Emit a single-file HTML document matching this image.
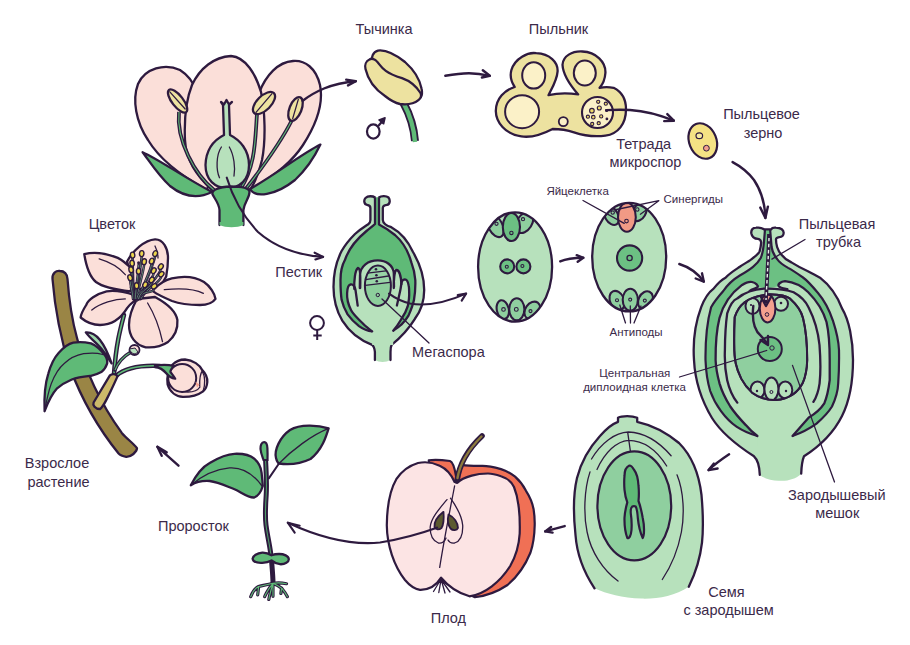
<!DOCTYPE html>
<html><head><meta charset="utf-8"><style>
html,body{margin:0;padding:0;background:#fff;width:910px;height:645px;overflow:hidden}
svg{display:block}
text{font-family:"Liberation Sans",sans-serif;fill:#3b2a4a}
.L{font-size:14.5px}
.S{font-size:11.5px}
.o{stroke:#2e1a3f;stroke-width:2.3;stroke-linejoin:round;stroke-linecap:round}
.t{stroke:#2e1a3f;stroke-width:1.3;fill:none;stroke-linecap:round}
.ar{stroke:#2e1a3f;stroke-width:2.4;fill:none;stroke-linecap:round;stroke-linejoin:round}
</style></head><body>
<svg width="910" height="645" viewBox="0 0 910 645">
<!-- TEXT -->
<g id="labels">
<text class="L" x="384" y="34" text-anchor="middle">Тычинка</text>
<text class="L" x="558.5" y="34.4" text-anchor="middle">Пыльник</text>
<text class="L" x="761.5" y="119" text-anchor="middle">Пыльцевое</text>
<text class="L" x="763" y="137.5" text-anchor="middle">зерно</text>
<text class="L" x="643.7" y="148.6" text-anchor="middle">Тетрада</text>
<text class="L" x="645.5" y="167" text-anchor="middle">микроспор</text>
<text class="S" x="577.6" y="195" text-anchor="middle">Яйцеклетка</text>
<text class="S" x="693.3" y="202.6" text-anchor="middle">Синергиды</text>
<text class="L" x="837" y="228.8" text-anchor="middle">Пыльцевая</text>
<text class="L" x="838.6" y="246.5" text-anchor="middle">трубка</text>
<text class="L" x="112" y="228.6" text-anchor="middle">Цветок</text>
<text class="L" x="298.7" y="276.6" text-anchor="middle">Пестик</text>
<text class="L" x="448.4" y="357" text-anchor="middle">Мегаспора</text>
<text class="S" x="636" y="336.4" text-anchor="middle">Антиподы</text>
<text class="S" x="634.8" y="377" text-anchor="middle">Центральная</text>
<text class="S" x="634.5" y="391.4" text-anchor="middle">диплоидная клетка</text>
<text class="L" x="836.8" y="500" text-anchor="middle">Зародышевый</text>
<text class="L" x="837.2" y="517.9" text-anchor="middle">мешок</text>
<text class="L" x="57" y="468.2" text-anchor="middle">Взрослое</text>
<text class="L" x="58.5" y="486.7" text-anchor="middle">растение</text>
<text class="L" x="193.4" y="530.8" text-anchor="middle">Проросток</text>
<text class="L" x="448.4" y="622.5" text-anchor="middle">Плод</text>
<text class="L" x="726.5" y="596.8" text-anchor="middle">Семя</text>
<text class="L" x="728.6" y="614.9" text-anchor="middle">с зародышем</text>
</g>
<!-- BIG FLOWER -->
<g id="flower">
<path class="o" fill="#fbdfd9" d="M207,190 C185,178 160,160 148,140 C136,122 132,100 138,84 C145,68 165,63 180,70 C188,75 193,81 197,92 L215,160 Z"/>
<path class="o" fill="#fbdfd9" d="M250,190 C268,180 290,165 303,145 C316,125 324,105 320,85 C316,68 305,60 293,61 C278,62 266,75 259,93 L240,160 Z"/>
<path class="o" fill="#fbdfd9" d="M212,190 C196,175 186,160 185,140 C184,118 186,100 192,85 C200,68 214,57 231,56 C246,57 256,75 261,92 C265,110 266,140 262,160 C258,175 255,183 250,190 Z"/>
<!-- filaments -->
<path d="M179,112 C176,140 195,175 214,190" stroke="#2e1a3f" stroke-width="3.8" fill="none"/>
<path d="M179,112 C176,140 195,175 214,190" stroke="#5fba77" stroke-width="1.1" fill="none"/>
<path d="M257,114 C255,140 256,165 240,190" stroke="#2e1a3f" stroke-width="3.8" fill="none"/>
<path d="M257,114 C255,140 256,165 240,190" stroke="#5fba77" stroke-width="1.1" fill="none"/>
<path d="M292,120 C282,140 262,168 245,190" stroke="#2e1a3f" stroke-width="3.8" fill="none"/>
<path d="M292,120 C282,140 262,168 245,190" stroke="#5fba77" stroke-width="1.1" fill="none"/>
<!-- anthers -->
<g transform="translate(177.6,101) rotate(52)"><ellipse class="o" fill="#ede2a0" rx="14" ry="5.5"/><path class="t" stroke-width="1.5" d="M-12,0.5 L11,-1"/></g>
<g transform="translate(264,103) rotate(-45)"><ellipse class="o" fill="#ede2a0" rx="14" ry="7"/><path class="t" stroke-width="1.5" d="M-12,1 L12,-1"/></g>
<g transform="translate(295.5,109) rotate(-68)"><ellipse class="o" fill="#ede2a0" rx="12.5" ry="6"/><path class="t" stroke-width="1.5" d="M-10,1 L10,-1"/></g>
<!-- ovary & style -->
<path class="o" fill="#b7e1bc" d="M221,102 L223,105 L224,135 C214,140 206,150 205.5,165 C205.5,180 215,188 227,188 C240,188 249,180 249,165 C249,150 240,140 230,135 L229,105 L232,102 L229,104.5 L226.5,100 L224,104.5 Z"/>
<path class="t" d="M221.4,147 C216,155 216,170 219.5,177.7 M229.3,147 C234,155 235.5,168 234,176"/>
<!-- sepals -->
<path class="o" fill="#5fba77" d="M142.6,152.2 C160,160 180,175 212,192 C200,198 185,198 170,186 C158,175 150,162 142.6,152.2 Z"/>
<path class="o" fill="#5fba77" d="M320.4,144.6 C300,155 275,175 250,189 C255,198 275,196 295,180 C308,168 315,156 320.4,144.6 Z"/>
<!-- receptacle -->
<path class="o" fill="#5fba77" d="M219.5,225 L219.5,210 C219,203 214,198 212.4,194 C212,190 218,187 231,186.5 C243,186.5 249.5,188 249.5,192 C249.5,198 244.5,202 243.4,210 L243.4,225"/>
<path d="M219.5,225 C226,228 237,228 243.4,225 L243.4,222 L219.5,222 Z" fill="#5fba77"/>
</g>
<!-- STAMEN -->
<g id="stamen">
<path d="M403.5,103 C410,115 414,128 415,141" stroke="#2e1a3f" stroke-width="8" fill="none"/>
<path d="M403.5,103 C410,115 414,128 415,142" stroke="#5fba77" stroke-width="4.4" fill="none"/>
<path class="o" stroke-width="2.3" fill="#ede2a0" d="M372,62 C371,57 373,52 378,50.6 C386,49.5 396,55 405,62 C414,70 420,80 421.6,88.8 C422.5,93 421.5,96 420.8,97 L400,90 Z"/>
<path class="o" stroke-width="2.3" fill="#ede2a0" d="M369.5,59.5 C366,61 364.5,65 365.5,69 C368,80 376,90 385,96 C390,100 395,103 400,104 C408,105 415,103 418.4,100.2 C421,98 421.5,95 420.5,93 C416,86 410,81 402,78.2 C395,76 390,74 385.8,70.9 C380,67 378,61 374.4,59.5 C372.5,58.5 371,58.5 369.5,59.5 Z"/>
<!-- male symbol -->
<ellipse cx="373.3" cy="131.5" rx="6.3" ry="7.1" fill="none" stroke="#2e1a3f" stroke-width="2.2"/>
<path d="M378.2,126 L384,119.5" stroke="#2e1a3f" stroke-width="2.2" fill="none"/>
<path d="M379,120 L385,117.8 L383.6,123.8 Z" fill="#2e1a3f" stroke="#2e1a3f" stroke-width="1.6" stroke-linejoin="round"/>
</g>
<!-- ANTHER CROSS-SECTION -->
<g id="anther">
<path class="o" fill="#ede2a0" d="M552.6,129 C545,133 532,138 521.3,136.4 C505,134 496,122 495.8,110.9 C496,98 505,90 514.7,87 C510,80 510,75 511.4,70 C515,58 528,52 536.2,53.2 C550,54 558,62 557.6,71.3 C557,80 552,88 548.5,95.2 C558,93 568,93 578.2,94.4 C570,85 563,75 562.5,64.7 C563,56 572,51 582.3,51.5 C596,52 606,62 605.4,73 C605,79 603,84 599.6,87.8 C604,87 609,87 613.6,87.8 C622,92 626,100 626,109.2 C626,124 618,134 605.4,135.6 C595,137 582,135 574,132.3 C567,130 560,129 552.6,129 Z"/>
<ellipse cx="533.7" cy="75.4" rx="11.5" ry="13.2" fill="#fbf1c8" stroke="#2e1a3f" stroke-width="2"/>
<ellipse cx="584.8" cy="73" rx="11" ry="12.5" fill="#fbf1c8" stroke="#2e1a3f" stroke-width="2"/>
<ellipse cx="522.1" cy="111.7" rx="17" ry="16.5" fill="#fbf1c8" stroke="#2e1a3f" stroke-width="2"/>
<circle cx="563.3" cy="121.6" r="4.5" fill="#fbf1c8" stroke="#2e1a3f" stroke-width="1.8"/>
<ellipse cx="597.5" cy="112.5" rx="15.5" ry="15.5" fill="#fbf1c8" stroke="#2e1a3f" stroke-width="2.1"/>
<g fill="#eedb6a" stroke="#2e1a3f" stroke-width="1.1">
<circle cx="598.2" cy="101.8" r="1.6"/><circle cx="605.8" cy="103.7" r="1.6"/><circle cx="599.3" cy="108" r="2"/>
<circle cx="591.9" cy="110.7" r="2.3"/><circle cx="587.9" cy="116.7" r="1.6"/><circle cx="593.3" cy="117.2" r="1.8"/>
<circle cx="601.2" cy="116.4" r="1.6"/><circle cx="592.2" cy="124" r="1.6"/><circle cx="598.7" cy="123.2" r="1.6"/>
</g>
<circle cx="606.9" cy="118.9" r="1.4" fill="#2e1a3f"/>
<circle cx="606.6" cy="110.5" r="1.6" fill="#2e1a3f"/>
</g>
<!-- POLLEN -->
<g id="pollen">
<ellipse cx="702.8" cy="141" rx="13.6" ry="18.3" transform="rotate(-22 702.8 141)" fill="#f5e284" stroke="#2e1a3f" stroke-width="2.2"/>
<ellipse cx="699.3" cy="135.7" rx="3.3" ry="2.9" fill="#f7eba0" stroke="#2e1a3f" stroke-width="1.2"/>
<circle cx="706.4" cy="148.2" r="2.9" fill="#f2a08e" stroke="#2e1a3f" stroke-width="1"/>
</g>
<!-- PISTIL -->
<g id="pistil">
<path fill="#b7e1bc" d="M374.9,362 L374.9,352 C374.5,348 373.5,346 372.1,344.9 C362,341 350,333 342.3,320.7 C336,310 333.5,298 333.5,287 C333.5,272 336,262 341.6,251 C345,245 349,240 355,234 C360.5,229 365.5,226 368.5,224 C370,223 370.4,222 370.4,220 L370.4,208 C370.4,205.5 369,205 367,204.8 C364,204.5 363.5,200 365.5,198 C368,195.5 373,196 375,197.5 L378.9,197.5 C381,196 386,195.5 388.5,197.5 C390.5,200 390,204.5 387,204.8 C385,205 382.8,205.5 382.8,208 L382.8,220 C383,223 386,225.5 391.3,227.2 C400,232 408,241 413,252 C420,264 424.2,276 424.2,290 C424.2,302 420,312 414.9,318.8 C408,330 400,338 391.6,344.9 C391,346 390.5,348 390.5,352 L390.5,360 C386,362.5 379,362.5 374.9,360 Z"/>
<path class="o" fill="none" d="M374.9,360 L374.9,352 C374.5,348 373.5,346 372.1,344.9 C362,341 350,333 342.3,320.7 C336,310 333.5,298 333.5,287 C333.5,272 336,262 341.6,251 C345,245 349,240 355,234 C360.5,229 365.5,226 368.5,224 C370,223 370.4,222 370.4,220 L370.4,208 C370.4,205.5 369,205 367,204.8 C364,204.5 363.5,200 365.5,198 C368,195.5 373,196 375,197.5 M378.9,197.5 C381,196 386,195.5 388.5,197.5 C390.5,200 390,204.5 387,204.8 C385,205 382.8,205.5 382.8,208 L382.8,220 C383,223 386,225.5 391.3,227.2 C400,232 408,241 413,252 C420,264 424.2,276 424.2,290 C424.2,302 420,312 414.9,318.8 C408,330 400,338 391.6,344.9 C391,346 390.5,348 390.5,352 L390.5,360"/>
<path d="M375,197.5 L375,224 C372.5,226.5 369.5,228.5 366.5,231 C358,238 349,248 345,259.8 C341,267 340.5,274 340.5,280 C340.5,288 340.8,294 341.6,299.8 C343,306 345,310 347.6,314.3 C351,319 355,323 359,326.1 C363,329 368,331 372.2,331.4 L393.2,330.7 C396,329 398.5,327.5 401.1,324.8 C404,322 406.5,319 408.5,315.6 C411,310 413,305 414,299.8 C415.2,293 415.5,286 415.3,280 C414.8,274 413.5,268 411.5,262.9 C408,250 403,242 395,235 C390,231 385,227.5 379,224.5 L379,197.5" fill="#5fba77" stroke="#2e1a3f" stroke-width="2.3" stroke-linejoin="round"/>
<path d="M372.2,331.4 C368,328 365,326 362.9,323.5 C357,318 353,314 351.1,310.3 C348,304 346.8,298 347.1,293.2 C347.3,289 347.8,285 350.5,284.5 C352.5,284.3 353.8,286 354.2,288 C354,281 355,270 357.9,268 C358.8,267.8 359.5,268.2 360.2,269.2 C363,263.5 369,260.4 377.8,260.4 C385,260.5 390.5,264 393.2,269 C394,268.5 395,269.5 396.5,269.8 C399,270.5 400.8,275 401.4,281 C402.5,280 403.5,279.3 404.8,279.3 C407,280 408.5,283 408.7,285.7 C409.2,290 409.4,295 409.2,299.6 C408.8,304 408,306 407.7,306.4 C406,312 403.5,316 401.1,319.5 C398.5,324 396,327.5 393.2,330.7 L393.2,345 L372.2,345 Z" fill="#b7e1bc"/>
<path class="o" fill="none" d="M372.2,331.4 C368,328 365,326 362.9,323.5 C357,318 353,314 351.1,310.3 C348,304 346.8,298 347.1,293.2 C347.3,289 347.8,285 350.5,284.5 C353.5,284 355,287 355.5,290 L357.7,305.7"/>
<path class="o" fill="none" d="M393.2,330.7 C396,327.5 398.5,324 401.1,319.5 C403.5,316 406,312 407.7,306.4 C408.5,302 409.2,299.6 409.2,295 C409.2,290 409,287 408.7,285.7 C408,281.5 406.5,279.3 404.8,279.3 C402.5,279.5 401.5,282 401.3,284 C400.5,290 399.8,292.6 399.8,292.6 L396.9,305.5"/>
<path class="o" stroke-width="2.1" fill="none" d="M359.8,288 L360,275 C360.5,266 368,260.4 377.8,260.4 C386,260.5 393,265 393.8,273 L394,287 M354.3,289 C354,281 355,270 357.9,268 C360,268.2 360.6,273 360.2,288 M393.8,288 C393.6,280 394.5,270.5 396.5,269.8 C399,270 401,276 401.4,284"/>

<ellipse cx="377.9" cy="285.7" rx="13" ry="20.2" fill="#8dce9c"/>
<defs><clipPath id="cm"><ellipse cx="377.9" cy="285.7" rx="13" ry="20.2"/></clipPath></defs><path clip-path="url(#cm)" d="M364,285.5 L391,282.2 L391,263 L364,263 Z" fill="#99d4a7"/>
<path class="t" stroke-width="1.6" d="M367.5,273.2 L386,270.8 M365.5,279.7 L388.5,276 M365.2,285.4 L390,282.3"/>
<ellipse cx="377.9" cy="285.7" rx="13" ry="20.2" fill="none" stroke="#2e1a3f" stroke-width="2"/>
<circle cx="376" cy="269.3" r="1.3" fill="#2e1a3f"/><circle cx="376.4" cy="275.2" r="1.3" fill="#2e1a3f"/><circle cx="376.8" cy="281.2" r="1.3" fill="#2e1a3f"/>
<circle cx="377.8" cy="295" r="1.7" fill="none" stroke="#2e1a3f" stroke-width="1"/>
<path class="t" d="M382,299 L429,343"/>
<circle cx="317" cy="323" r="6.9" fill="none" stroke="#2e1a3f" stroke-width="2"/>
<path d="M317.2,329.9 L317.2,340 M313.3,335.4 L321.7,335.4" stroke="#2e1a3f" stroke-width="2" fill="none"/>
</g>
<!-- EMBRYO SAC 1 -->
<defs><clipPath id="c1"><ellipse cx="515.1" cy="267" rx="37" ry="54.7"/></clipPath><clipPath id="c2"><ellipse cx="629.2" cy="257.1" rx="37" ry="54.3"/></clipPath></defs>
<g id="sac1">
<ellipse cx="515.1" cy="267" rx="37" ry="54.7" fill="#b7e1bc"/>
<g stroke="#2e1a3f" stroke-width="2.1" clip-path="url(#c1)">
<ellipse cx="495.5" cy="226" rx="7" ry="12" transform="rotate(-28 495.5 226)" fill="#8fcf9f"/>
<ellipse cx="524.5" cy="222.5" rx="7.5" ry="11.5" transform="rotate(32 524.5 222.5)" fill="#8fcf9f"/>
<ellipse cx="511.4" cy="227" rx="8.6" ry="14" fill="#6cc083"/>
<ellipse cx="502.8" cy="309.6" rx="6" ry="9.5" transform="rotate(-12 502.8 309.6)" fill="#8fcf9f"/>
<ellipse cx="532.3" cy="310.4" rx="7" ry="9.5" transform="rotate(35 532.3 310.4)" fill="#8fcf9f"/>
<ellipse cx="516.8" cy="309.3" rx="7.6" ry="11" fill="#8fcf9f"/>
<circle cx="507.2" cy="266.4" r="7" fill="#6cc083"/>
<circle cx="523.4" cy="266.4" r="7" fill="#6cc083"/>
</g>
<ellipse cx="515.1" cy="267" rx="37" ry="54.7" fill="none" stroke="#2e1a3f" stroke-width="2.3"/>
<g fill="none" stroke="#2e1a3f" stroke-width="1.1">
<circle cx="496.5" cy="223.8" r="1.6"/><circle cx="523" cy="219.2" r="1.6"/><circle cx="511.4" cy="232.9" r="1.7"/>
<circle cx="503.5" cy="309.4" r="1.8"/><circle cx="516.3" cy="309.4" r="1.9"/><circle cx="530.5" cy="311.1" r="1.5"/>
<circle cx="506.8" cy="266.7" r="1.5"/><circle cx="522.4" cy="266" r="1.5"/></g>
</g>
<!-- EMBRYO SAC 2 -->
<g id="sac2">
<ellipse cx="629.2" cy="257.1" rx="37" ry="54.3" fill="#b7e1bc"/>
<g stroke="#2e1a3f" stroke-width="2.1" clip-path="url(#c2)">
<ellipse cx="611.5" cy="215.7" rx="6.5" ry="10" transform="rotate(-30 611.5 215.7)" fill="#8fcf9f"/>
<ellipse cx="639.2" cy="212.2" rx="6.5" ry="9.5" transform="rotate(30 639.2 212.2)" fill="#8fcf9f"/>
<ellipse cx="626.9" cy="217.2" rx="8.9" ry="14.6" fill="#f19a85"/>
<ellipse cx="617.1" cy="300.4" rx="7" ry="10" transform="rotate(-25 617.1 300.4)" fill="#8fcf9f"/>
<ellipse cx="645.5" cy="300.4" rx="7" ry="9.5" transform="rotate(25 645.5 300.4)" fill="#8fcf9f"/>
<ellipse cx="630.3" cy="299.8" rx="7.6" ry="11" fill="#8fcf9f"/>
<circle cx="629.6" cy="258" r="12.6" fill="#6cc083"/>
</g>
<ellipse cx="629.2" cy="257.1" rx="37" ry="54.3" fill="none" stroke="#2e1a3f" stroke-width="2.3"/>
<g fill="none" stroke="#2e1a3f" stroke-width="1.1">
<circle cx="612.7" cy="212.6" r="1.7"/><circle cx="637.3" cy="209.5" r="1.7"/><circle cx="626.5" cy="221.1" r="1.8"/>
<circle cx="617" cy="300.2" r="1.5"/><circle cx="630.2" cy="299.6" r="1.5"/><circle cx="644.8" cy="300.6" r="1.5"/></g>
<circle cx="629.6" cy="258" r="2.6" fill="none" stroke="#2e1a3f" stroke-width="1.3"/>
<path class="t" d="M583,200.5 L624.2,223.4 M658.8,200.7 L616.5,209.5 M658.8,200.7 L640.4,214.2 M619.8,305 L625.5,323 M630.3,306 L630.5,323 M641,306 L634,323"/>
</g>
<!-- BIG OVULE -->
<g id="ovule">
<path fill="#b7e1bc" d="M771.1,229.4 C772,227.5 774,227.5 776,227.7 C780,228 783.5,229.5 783.7,232.7 C783.5,236 781,237 779.3,237.1 C777,237.5 776,238 776,239.3 C776,242 776.5,245 777.1,247 C778,250 779.5,252.5 781.5,254.7 C784,258 787,260.5 791.4,262.4 C797,266 802,268.5 807.9,271.2 C812,273.5 816,275.5 820,277.7 C832,287 838,298 842,308.4 C849,320 853,340 853,360 C853,380 850,400 842,416 C834,432 820,446 804,456.3 C802,461 801.5,466 801.2,473.7 C796,479 788,481 780.7,480.7 C774,481 766,480 759.8,474.9 C759.5,466 758,460 754,456.3 C738,446 722,434 712,418 C700,398 695,380 694,360 C693,345 694.5,325 701.2,307.2 C705,297 709,292 713.6,288.6 C718,283 721,280 725.5,277.7 C730,273 735,270 739.8,266.8 C745,263 750,261 753,258 C757,255 759,253 759.6,251.4 C760.5,248 761,245 761.2,242.6 C761,240 760,239 758,238.8 C755,238.8 752,237 751.3,233.2 C751,230 753,228 756,227.7 C759,227.3 762,227.5 764,229.4 Z"/>
<path class="o" fill="none" d="M759.8,474.9 C759.5,466 758,460 754,456.3 C738,446 722,434 712,418 C700,398 695,380 694,360 C693,345 694.5,325 701.2,307.2 C705,297 709,292 713.6,288.6 C718,283 721,280 725.5,277.7 C730,273 735,270 739.8,266.8 C745,263 750,261 753,258 C757,255 759,253 759.6,251.4 C760.5,248 761,245 761.2,242.6 C761,240 760,239 758,238.8 C755,238.8 752,237 751.3,233.2 C751,230 753,228 756,227.7 C759,227.3 762,227.5 764,229.4 M771.1,229.4 C772,227.5 774,227.5 776,227.7 C780,228 783.5,229.5 783.7,232.7 C783.5,236 781,237 779.3,237.1 C777,237.5 776,238 776,239.3 C776,242 776.5,245 777.1,247 C778,250 779.5,252.5 781.5,254.7 C784,258 787,260.5 791.4,262.4 C797,266 802,268.5 807.9,271.2 C812,273.5 816,275.5 820,277.7 C832,287 838,298 842,308.4 C849,320 853,340 853,360 C853,380 850,400 842,416 C834,432 820,446 804,456.3 C802,461 801.5,466 801.2,473.7"/>
<path d="M765,229.4 L764,241.5 C763.5,248 762.5,254 760.7,258 C758.5,262 756,264.5 753,266.8 C749,270 745,272.5 739.8,275.5 C734,279 728,284 723.3,291 C718,297 714,302 711.1,307.2 C707,322 705.3,340 705.5,360 C706,372 707.5,382 710.2,391 C713,399 716.5,405 721,411.2 C726,418 731,423 736.5,426.7 C743,431 750,434 757.4,436 L792.5,436 C801,433 809,429 816.5,423.6 C823,418 828,413 832,406.5 C836,398 838,390 838.2,383.3 C839,372 839.2,360 839,350 C838.5,338 836,330 833,320.8 C829,309 824,300 818,293 C813,287 808,281 803,277.5 C798,274 793,270.5 788.1,267.9 C783,265 779,262 777.1,259 C773,254 772,250 771.6,247 L770.1,229.4 Z" fill="#6cc083" stroke="#2e1a3f" stroke-width="2.2" stroke-linejoin="round"/>
<!-- ovule silhouette -->
<path fill="#b7e1bc" d="M757.4,436 C752,432 749,429 745.8,425.1 C739,418 734,412 730.3,406.5 C725,398 721.5,390 719.5,383.3 C717,374 715.8,366 715.6,360 C715.5,345 716.5,330 719.5,318 C723,305 730,294 742.1,284.9 C746,282.5 750,281.5 752,282 C756,283 758.5,285.5 757,287.5 L770,288 L779.5,286 C778,283.5 781,281.5 785,281.1 C793,282 802,286 808,292 C816,300 823,310 826.5,322 C829,333 829.7,345 829.7,360 C829.7,368 829.7,375 829.7,380.2 C828.5,390 827,397 824.3,403.4 C820,410 815,414 808.8,417.4 C803,424 797,431 792.5,436 L792.5,446 L757.4,446 Z"/>
<path class="o" fill="none" d="M757.4,436 C752,432 749,429 745.8,425.1 C739,418 734,412 730.3,406.5 C725,398 721.5,390 719.5,383.3 C717,374 715.8,366 715.6,360 C715.5,345 716.5,330 719.5,318 C723,305 730,294 742.1,284.9 C746,282.5 750,281.5 752,282 C756,283 758.5,285.5 757.6,287 C756.5,288.5 752,288.5 749.6,291"/>
<path class="o" fill="none" d="M792.5,436 C797,431 803,424 808.8,417.4 C815,414 820,410 824.3,403.4 C827,397 828.5,390 829.7,380.2 C829.7,375 829.7,368 829.7,360 C829.7,345 829,333 826.5,322 C823,310 816,300 808,292 C802,286 793,282 785,281.1 C781,281.5 777.5,284 778.7,286.1 C780,288 784,288.5 787.4,289.2"/>
<path class="o" fill="none" d="M737.3,402.6 C732,396 729,388 727.2,380.2 C725,370 724.5,360 724.9,350 C725,335 726,322 727.2,313.4 C730,305 733,300 737.2,298.5 C745,292 755,289 764.5,288.6 C778,288.5 788,290 793.6,292.3 C802,297 806,302 808.5,307.2 C814,318 818,330 819.5,345 C820.5,358 821,370 819.6,383.3 C818.5,391 816.5,397 813.4,401.9"/>
<!-- sac -->
<path fill="#8fcf9f" stroke="#2e1a3f" stroke-width="2" d="M776,400 C765,400.5 758,397 752,392.6 C746,387 743,382 741.2,378.6 C736,368 734.2,360 734.2,345 C734,330 734.5,322 734.7,317.1 C737,310 741,305 744.6,302.2 C750,298 757,295.5 769.4,294.2 C780,294.5 787,296 789.9,298.5 C796,304 801,310 803,318 C806,330 807.2,345 807.2,360 C807,370 805,378 802.6,383.3 C799.5,389 796.5,392 793.3,394.1 C789,397 784,399.5 776,400 Z"/>
<defs><clipPath id="c3"><path d="M776,400 C765,400.5 758,397 752,392.6 C746,387 743,382 741.2,378.6 C736,368 734.2,360 734.2,345 C734,330 734.5,322 734.7,317.1 C737,310 741,305 744.6,302.2 C750,298 757,295.5 769.4,294.2 C780,294.5 787,296 789.9,298.5 C796,304 801,310 803,318 C806,330 807.2,345 807.2,360 C807,370 805,378 802.6,383.3 C799.5,389 796.5,392 793.3,394.1 C789,397 784,399.5 776,400 Z"/></clipPath></defs>
<g stroke="#2e1a3f" stroke-width="2" clip-path="url(#c3)">
<ellipse cx="752.5" cy="306" rx="7" ry="8" fill="#b7e1bc"/>
<ellipse cx="781" cy="303.8" rx="7" ry="7" fill="#b7e1bc"/>
<ellipse cx="767.6" cy="308.4" rx="7.8" ry="14" fill="#f4a08e"/>
<ellipse cx="757.5" cy="390" rx="7" ry="8.5" fill="#b7e1bc"/>
<ellipse cx="785.3" cy="390" rx="7" ry="8.5" fill="#b7e1bc"/>
<ellipse cx="771.4" cy="389" rx="7" ry="11.5" fill="#b7e1bc"/>
<circle cx="769.8" cy="349" r="12" fill="#6cc083"/>
</g>
<path fill="none" stroke="#2e1a3f" stroke-width="2" d="M776,400 C765,400.5 758,397 752,392.6 C746,387 743,382 741.2,378.6 C736,368 734.2,360 734.2,345 C734,330 734.5,322 734.7,317.1 C737,310 741,305 744.6,302.2 C750,298 757,295.5 769.4,294.2 C780,294.5 787,296 789.9,298.5 C796,304 801,310 803,318 C806,330 807.2,345 807.2,360 C807,370 805,378 802.6,383.3 C799.5,389 796.5,392 793.3,394.1 C789,397 784,399.5 776,400 Z"/>
<g fill="none" stroke="#2e1a3f" stroke-width="1"><circle cx="767" cy="314.5" r="1.8"/><circle cx="772" cy="348" r="2.2"/><circle cx="771.4" cy="392" r="1.5"/></g>
<g fill="#2e1a3f"><circle cx="781" cy="303" r="1.3"/><circle cx="751" cy="305" r="1.1"/><circle cx="757" cy="391" r="1.2"/><circle cx="786" cy="391" r="1.2"/></g>
<!-- pollen tube -->
<path d="M769,234 C768.5,255 767,280 765.8,303" stroke="#2e1a3f" stroke-width="3.8" fill="none"/>
<path d="M769,238 C768.5,255 767,280 766,300" stroke="#e8f4ea" stroke-width="1.4" stroke-dasharray="3.5 2.5" fill="none"/>
<path class="ar" stroke-width="2" d="M761,297 L766,306 L771,297"/>
<path class="ar" stroke-width="1.6" d="M753.3,306 C752,318 754,330 760.7,335.7 C763,338 765,341 767.6,344"/>
<path class="ar" stroke-width="1.8" d="M760.5,340 L768,345 L768,336"/>
<!-- leader lines -->
<path class="t" d="M805,239.5 L771.9,259.1 M679.5,377 L766.7,350.5 M792.5,365.4 L834.5,482"/>
</g>
<!-- SEED -->
<g id="seed">
<path fill="#b7e1bc" d="M594.5,588.3 C585,574 577,556 575.5,535 C573,512 573,495 577,478 C581,462 589,448 600,436 C606,429 612,424 618,421.8 L618,417.8 C622,415.6 632,415.6 637.2,417.8 L637.2,421.8 C654,425.5 667,433 679,443 C692,456 699,474 701.5,495 C703,512 703.5,528 702,542.6 C700,560 695,574 688.8,586.8 C675,596 658,599 641.6,598.6 C622,598 607,594 594.5,588.3 Z"/>
<path class="o" fill="none" d="M594.5,588.3 C585,574 577,556 575.5,535 C573,512 573,495 577,478 C581,462 589,448 600,436 C606,429 612,424 618,421.8 L618,417.8 C622,415.6 632,415.6 637.2,417.8 L637.2,421.8 C654,425.5 667,433 679,443 C692,456 699,474 701.5,495 C703,512 703.5,528 702,542.6 C700,560 695,574 688.8,586.8"/>
<path class="t" stroke-width="2.2" d="M591.5,459 C601,443 615,432.5 628.4,432 C645,432.5 660,443 671.1,455.7 M597,469.5 C605,452 617,441 628.4,440.3 C645,440.5 658,452 666.7,466 M627.7,432.3 L630.5,451.9 M590,471.9 C584,490 583.5,515 587.1,532 C591,552 603,570 618,581 M677,474.8 C684,492 684.5,515 681.4,532 C678,550 672,565 662.3,579.5"/>
<ellipse cx="634.3" cy="505.8" rx="36.9" ry="54.5" fill="#8fcf9f" stroke="#2e1a3f" stroke-width="2.2"/>
<path fill="#5fba77" stroke="#2e1a3f" stroke-width="2.2" stroke-linejoin="round" d="M629.4,465.5 C626,467 624.5,471 624.5,475.9 C624,481 624.2,486 624.5,489.9 C625,495 626,499 627.3,502.4 C626,507 624.8,512 624.5,517.8 C624.3,526 625.5,533 627.3,538 C629,539 631,536 631.5,530 C632,522 631.5,518 630.8,513.6 C630.5,510 631,507.5 632.2,506.6 C633.5,506 634.5,506 635.7,506.6 C637,509 637.5,513 637.8,517.8 C638.5,525 640,532 642.7,538 C644.5,535 644.5,526 642.7,517.8 C641.5,511 640,505 638.5,501 C639,496 639,491 638.5,485.7 C638,478 636.5,473 634.3,470.3 C632.5,467 631,465.5 629.4,465.5 Z"/>
</g>
<!-- APPLE -->
<g id="apple">
<path fill="#f07055" stroke="#2e1a3f" stroke-width="2.2" stroke-linejoin="round" d="M428.8,460.3 C436,459 443,460 450,461 C453,462 455,470 456,476 C458,470 460,466 461.9,464.8 C468,466 475,466 482.6,465.9 C489,466 495,467.5 501,469.1 C507,471 511,473.5 515.1,476.7 C520,481 523.5,486 526,490.8 C530,497 532.5,503 533.6,509.3 C534.5,515 534.8,520 534.7,525 C534.5,535 533,545 530.5,552.5 C525,566 517,577 507.5,585 C497,592 486,596 474.9,597.2 L440,580 Z"/>
<path fill="#fce4e4" stroke="#2e1a3f" stroke-width="2.2" stroke-linejoin="round" d="M454.6,482 C452,476 447,469 439.7,465.7 C432,462 425,461.5 418,463 C408,466 401,472 396.3,479.2 C390,490 387,507 386.8,525.3 C387,545 394,566 405,580 C410,586 415,589 420,589.8 C428,590 436,586 441.1,577.7 C448,586 458,593 469.5,596.3 C485,594 500,582 510.2,566 C516,556 519,545 519.7,533.5 C520,522 519.5,512 518.4,505 C517.5,497 516,492 514,487 C511,481 507,478 501,476.2 C496,474.5 492,473.5 488,473.5 C482,473.5 477,474 471.7,475.6 C465,477.5 460,480 457.1,482.7 C455.5,481.5 455,482 454.6,482 Z"/>
<path d="M457,481 C459,466 467,450 482,436" stroke="#2e1a3f" stroke-width="5.6" fill="none" stroke-linecap="round"/>
<path d="M457.5,478 C459.5,466 467,451 481.5,436.5" stroke="#8c7a3c" stroke-width="2.4" fill="none" stroke-linecap="round"/>
<path class="t" stroke-width="1.4" d="M454.6,486 C450,510 444,540 439.7,567.4"/>
<path class="t" stroke-width="1.3" d="M447,499.6 C440,508 431,518 430.2,527 C430,536 433,541 438.3,543 C442,544 445,541 446,538 M450.5,498.2 C456,506 462,516 462.7,525.3 C463,534 461,541 454.6,543 C451,543.5 449,542 448,540"/>
<path fill="#5c5a30" stroke="#2e1a3f" stroke-width="1.8" stroke-linejoin="round" d="M443.5,511.8 C438,516 434,522 434.5,527 C435.5,530 439,530 441.5,528 C444,524 444,518 443.5,511.8 Z"/>
<path fill="#5c5a30" stroke="#2e1a3f" stroke-width="1.8" stroke-linejoin="round" d="M448.5,514.5 C447.5,519 448,525 450.5,528.5 C453,531 457,530.5 458,528 C458,523 454,517 448.5,514.5 Z"/>
<path d="M437,583 L441.1,578 L445,583 Z" fill="#2e1a3f"/><path class="t" stroke-width="1.6" d="M440.5,580 L433.5,591.5 M441,580 L438.8,592.5 M441.3,580 L445,593 M441.5,580 L450,592"/>
</g>
<!-- SEEDLING -->
<g id="seedling">
<path class="o" fill="#5fba77" d="M190.8,485.2 C196,475 202,467 209.7,462.9 C218,458 226,454 234.5,453.8 C243,453.5 250,455 254.2,458.7 C258,462 261,467 261.6,472.8 C262,477 262.5,481 262.8,486 C261,492 258,496 254.2,497.5 C248,498 241,492 234.5,489.3 C226,486 218,482 209.7,481 C202,480.5 196,482 190.8,485.2 Z"/>
<path class="t" stroke-width="2" d="M190.8,485.2 C203,475 217,469 229.5,467.9 C243,467 254,475 262,486"/>
<path class="o" fill="#5fba77" d="M328.6,428.4 C318,425 300,424 290,430 C280,437 274,450 276,458 C277,462 278,463 279,463.5 C290,465 300,464 310.5,459 C322,450 326,437 328.6,428.4 Z"/>
<path class="t" stroke-width="2" d="M328.6,428.4 C312,435 292,450 279,463.5"/>
<path d="M268.8,478.4 L279,463.5" stroke="#2e1a3f" stroke-width="2" fill="none" stroke-linecap="round"/>
<path d="M265.5,458 C266,470 267,482 266.2,495 C265.3,508 264.8,515 266,525 C267.5,537 270.5,548 271.5,560 C272.3,570 273,577 273,583" stroke="#2e1a3f" stroke-width="5" fill="none" stroke-linecap="round"/>
<path d="M265.5,460 C266,470 267,482 266.2,495 C265.3,508 264.8,515 266,525 C267.5,537 270.5,548 271.5,560" stroke="#4f9d69" stroke-width="1.1" fill="none"/>
<path fill="#5fba77" stroke="#2e1a3f" stroke-width="2.2" d="M264.2,442.1 C261.5,442 260.3,445.5 260.5,449 C260.8,453 262.5,457 263.5,460 L267.5,460 C267.6,456 267.6,452 267.4,448 C267.2,444.5 266,442.2 264.2,442.1 Z"/>
<path class="o" fill="#5fba77" d="M271.5,555.3 C268,553 265,552.5 262.3,552.6 C257,553 253,556 252.6,558.6 C253,562 258,563 262.3,562.8 C266,562.8 269,562 271.5,560.5 C274,562.5 277,564 280,564.2 C285,564.5 289,562 288.8,559 C288.5,556 284,554 279.1,554 C276,554 273.5,554.5 271.5,555.3 Z"/>
<path d="M273,583.3 C266,585 260,586 258.6,586.5 C254,589 252,593 250.7,596.7 M258.6,587 L257.7,594.9 M273,583.3 C270,587 268,590 267,592 C266,594 265,595.5 264.7,596.7 M273,583.3 C271,590 269.5,595 268.8,599.5 M273,583.3 L273,596.3 M273,583.3 C278,582.5 283,583 286.5,583.7 M273,583.3 C277,585 280,587 281.9,588.4 C284,591 286,594 287.4,596.7 M281.5,588.5 L280.9,593.5" fill="none" stroke="#2e1a3f" stroke-width="3.2" stroke-linecap="round"/>
<path d="M273,583.3 C266,585 260,586 258.6,586.5 C254,589 252,593 250.7,596.7 M258.6,587 L257.7,594.9 M273,583.3 C270,587 268,590 267,592 C266,594 265,595.5 264.7,596.7 M273,583.3 C271,590 269.5,595 268.8,599.5 M273,583.3 L273,596.3 M273,583.3 C278,582.5 283,583 286.5,583.7 M273,583.3 C277,585 280,587 281.9,588.4 C284,591 286,594 287.4,596.7 M281.5,588.5 L280.9,593.5" fill="none" stroke="#5fba77" stroke-width="1.1" stroke-linecap="round"/>
</g>
<!-- BRANCH -->
<g id="branch">
<path class="o" fill="#9a8545" d="M52.5,279 C52,273 56,270.5 60,271 C64,271 67.5,274 67.5,279 C69,300 72,320 77,338 C85,370 98,400 121.8,432.9 C127,439 133,443 137,448.1 C137,452 131,457 126.2,456.8 C122,456 120,455 118.6,453.5 C98,428 82,400 70,368 C61,340 55,310 52.5,279 Z"/>
<path class="o" fill="#5fba77" d="M44.6,411.2 C44,398 45,384 48.3,373.6 C51,364 54,358 58.6,353 C63,348 68,344 73.3,342.7 C79,341.5 85,342 91,343.4 C97,346 101,350 104.2,354.5 C106.5,357 107.5,360 107.2,363.3 C106,367 104,370 101.3,372.1 C98,374 95,375 91,375.8 C84,376.5 78,377 71.8,379.5 C66,382 61,385 57.1,388.3 C52,394 48,402 44.6,411.2 Z"/>
<path class="t" stroke-width="2" d="M44.6,411.2 C47,398 49,390 51.2,383.9 C55,374 60,367 64.5,363.3 C70,358 77,355 83.6,353.7 C92,352.5 98,353 102.7,354.5"/>
<path class="o" stroke-width="1.9" fill="#9fd8ab" d="M85.8,332.4 C91,332 96,335 99.8,339.7 C104,345 108,353 111.6,363.3 C108,358 104,351 99,346 C94,341 89,337 85.8,332.4 Z"/>
<path d="M124,315 C120,330 116,345 114,374" stroke="#2e1a3f" stroke-width="4.5" fill="none" stroke-linecap="round"/>
<path d="M124,315 C120,330 116,345 114,374" stroke="#5fba77" stroke-width="1.6" fill="none"/>
<path d="M115,370 C118,362 124,356 131,352" stroke="#2e1a3f" stroke-width="3.5" fill="none" stroke-linecap="round"/>
<path d="M115,370 C118,362 124,356 131,352" stroke="#5fba77" stroke-width="1.2" fill="none"/>
<path d="M116,376 C125,368 140,365 160,366" stroke="#2e1a3f" stroke-width="4.5" fill="none" stroke-linecap="round"/>
<path d="M116,376 C125,368 140,365 160,366" stroke="#5fba77" stroke-width="1.4" fill="none"/>
<path class="o" fill="#cdb96a" d="M93.6,402.5 C92.5,405 95,409 100.1,409 C103,407 106,402 117.5,376.4 C116,373.5 112,373.5 109.9,375.4 Z"/>
<circle cx="134.5" cy="350" r="5" fill="#fbdfd9" stroke="#2e1a3f" stroke-width="1.8"/>
<path d="M129.5,349 C131,354 135,355 138,352 L135,348 Z" fill="#b7e1bc" stroke="#2e1a3f" stroke-width="1"/>
<!-- bud -->
<path class="o" stroke-width="2" fill="#fbdfd9" d="M172.4,364.8 C176,361 181,359.5 185,359.5 C193,360 200,365 202.5,370.4 C206,374 207.5,378 207.3,382 C207,386 205.5,389.5 203.1,391.3 C198,395 190,397 182.9,396.9 C176,396.5 170,392 167.6,384.3 C166.5,378 168,370 172.4,364.8 Z"/>
<path class="t" stroke-width="1.8" d="M202.5,370.4 C200,374 199.5,380 199.7,386 M202.5,372 C205,376 205.5,384 203.1,391.3 M168,384 C173,390 180,392 188,392 C194,392 198,390 200,387"/>
<circle cx="182.2" cy="378" r="14" fill="#fbdfd9" stroke="#2e1a3f" stroke-width="2"/>
<path d="M195.5,382 L199.5,384.5 L197,387.5 Z" fill="#f4a08e"/>
<path class="o" stroke-width="1.7" fill="#5fba77" d="M155,365.5 C162,364.5 168,364.5 173.8,365.8 C172,368 170,370 170.5,372 C172,374 174,376.5 175.2,378.7 C171,378 168.5,376 166.5,373.5 C164,370.5 160,367.5 155,367 Z"/>
<!-- flower petals -->
<path d="M132,300 L158,299 L156,286 L135,286 Z" fill="#fbdfd9"/>
<path class="o" fill="#fbdfd9" d="M127.1,261.6 C133,250 145,240 155,239.3 C163,239 168,248 168,257.9 C168,266 167,272 166.2,276.5 C162,285 158,288 156.9,285.8 L135,290 Z"/>
<path class="o" fill="#fbdfd9" d="M130.8,291.4 C118,290 104,288 96,282 C90,277 86,265 84.3,254.2 C92,252 103,252 117.8,257.9 C124,261 128,265 133,270 Z"/>
<path class="o" fill="#fbdfd9" d="M153.2,289.6 C160,283 165,280 171.8,278.4 C182,276 194,276 204,282 C210,286 215,294 215.5,298.9 C212,304 207,305 200,305 C190,305 180,304 172,301 C165,298 158,295 153.2,291.4 Z"/>
<path class="o" fill="#fbdfd9" d="M134.6,295.1 C125,292 115,290 106.6,291.4 C96,294 88,300 86.2,305 C83,310 81,314 80.6,317.5 C86,322 92,325 100,325 C110,325 120,320 127.1,308.2 C130,304 133,302 134.6,300.7 Z"/>
<path class="o" fill="#fbdfd9" d="M137,299 C132,308 129,315 129,325 C129,336 135,345 145.7,347.3 C155,348 162,346 168,342 C175,336 178,328 177.4,320 C176,312 168,304 155,297 Z"/>
<path class="t" stroke-width="1.4" d="M99.2,258.8 C110,262 120,268 125.3,274.7 M164.3,289.6 C180,288 195,289 203.4,293.3 M91.8,310 C100,303 115,299 125.3,298.9 M147.6,303 C155,315 160,330 162.5,341.7 M155,246 C157,250 158,254 158,258"/>
<!-- stamens -->
<path d="M129,286 C132,294 134,299 137,302 C141,299 145,295 150,289 C145,292 140,294 137,294 C134,292 131,289 129,286 Z" fill="#3a2e48"/>
<path d="M133.7,299.0 C133.4,289.0 132.6,263.1 132.6,257.1" stroke="#2e1a3f" stroke-width="2.5" fill="none" stroke-linecap="round"/><path d="M133.7,299.0 C133.4,289.0 132.6,263.1 132.6,257.1" stroke="#6fae82" stroke-width="0.7" fill="none"/>
<path d="M135.9,299.0 C137.1,289.0 141.7,261.6 141.7,255.6" stroke="#2e1a3f" stroke-width="2.5" fill="none" stroke-linecap="round"/><path d="M135.9,299.0 C137.1,289.0 141.7,261.6 141.7,255.6" stroke="#6fae82" stroke-width="0.7" fill="none"/>
<path d="M139.3,299.0 C142.5,289.0 155.2,261.6 155.2,255.6" stroke="#2e1a3f" stroke-width="2.5" fill="none" stroke-linecap="round"/><path d="M139.3,299.0 C142.5,289.0 155.2,261.6 155.2,255.6" stroke="#6fae82" stroke-width="0.7" fill="none"/>
<path d="M133.5,299.0 C133.2,289.0 132.1,271.2 132.1,265.2" stroke="#2e1a3f" stroke-width="2.5" fill="none" stroke-linecap="round"/><path d="M133.5,299.0 C133.2,289.0 132.1,271.2 132.1,265.2" stroke="#6fae82" stroke-width="0.7" fill="none"/>
<path d="M136.6,299.0 C138.1,289.0 144.2,269.7 144.2,263.7" stroke="#2e1a3f" stroke-width="2.5" fill="none" stroke-linecap="round"/><path d="M136.6,299.0 C138.1,289.0 144.2,269.7 144.2,263.7" stroke="#6fae82" stroke-width="0.7" fill="none"/>
<path d="M138.4,299.0 C141.1,289.0 151.7,269.1 151.7,263.1" stroke="#2e1a3f" stroke-width="2.5" fill="none" stroke-linecap="round"/><path d="M138.4,299.0 C141.1,289.0 151.7,269.1 151.7,263.1" stroke="#6fae82" stroke-width="0.7" fill="none"/>
<path d="M140.7,299.0 C144.7,289.0 160.8,274.7 160.8,268.7" stroke="#2e1a3f" stroke-width="2.5" fill="none" stroke-linecap="round"/><path d="M140.7,299.0 C144.7,289.0 160.8,274.7 160.8,268.7" stroke="#6fae82" stroke-width="0.7" fill="none"/>
<path d="M133.3,299.0 C132.8,289.0 131.1,277.7 131.1,271.7" stroke="#2e1a3f" stroke-width="2.5" fill="none" stroke-linecap="round"/><path d="M133.3,299.0 C132.8,289.0 131.1,277.7 131.1,271.7" stroke="#6fae82" stroke-width="0.7" fill="none"/>
<path d="M135.2,299.0 C135.8,289.0 138.6,279.2 138.6,273.2" stroke="#2e1a3f" stroke-width="2.5" fill="none" stroke-linecap="round"/><path d="M135.2,299.0 C135.8,289.0 138.6,279.2 138.6,273.2" stroke="#6fae82" stroke-width="0.7" fill="none"/>
<path d="M138.9,299.0 C141.9,289.0 153.7,278.7 153.7,272.7" stroke="#2e1a3f" stroke-width="2.5" fill="none" stroke-linecap="round"/><path d="M138.9,299.0 C141.9,289.0 153.7,278.7 153.7,272.7" stroke="#6fae82" stroke-width="0.7" fill="none"/>
<path d="M140.8,299.0 C144.9,289.0 161.3,282.2 161.3,276.2" stroke="#2e1a3f" stroke-width="2.5" fill="none" stroke-linecap="round"/><path d="M140.8,299.0 C144.9,289.0 161.3,282.2 161.3,276.2" stroke="#6fae82" stroke-width="0.7" fill="none"/>
<path d="M133.0,299.0 C132.4,289.0 130.1,285.8 130.1,279.8" stroke="#2e1a3f" stroke-width="2.5" fill="none" stroke-linecap="round"/><path d="M133.0,299.0 C132.4,289.0 130.1,285.8 130.1,279.8" stroke="#6fae82" stroke-width="0.7" fill="none"/>
<path d="M134.7,299.0 C135.0,289.0 136.6,293.8 136.6,287.8" stroke="#2e1a3f" stroke-width="2.5" fill="none" stroke-linecap="round"/><path d="M134.7,299.0 C135.0,289.0 136.6,293.8 136.6,287.8" stroke="#6fae82" stroke-width="0.7" fill="none"/>
<path d="M136.8,299.0 C138.5,289.0 145.2,292.8 145.2,286.8" stroke="#2e1a3f" stroke-width="2.5" fill="none" stroke-linecap="round"/><path d="M136.8,299.0 C138.5,289.0 145.2,292.8 145.2,286.8" stroke="#6fae82" stroke-width="0.7" fill="none"/>
<path d="M139.1,299.0 C142.1,289.0 154.2,294.3 154.2,288.3" stroke="#2e1a3f" stroke-width="2.5" fill="none" stroke-linecap="round"/><path d="M139.1,299.0 C142.1,289.0 154.2,294.3 154.2,288.3" stroke="#6fae82" stroke-width="0.7" fill="none"/>
<path d="M138.4,299.0 C141.1,289.0 151.7,287.8 151.7,281.8" stroke="#2e1a3f" stroke-width="2.5" fill="none" stroke-linecap="round"/><path d="M138.4,299.0 C141.1,289.0 151.7,287.8 151.7,281.8" stroke="#6fae82" stroke-width="0.7" fill="none"/>
<path d="M135.2,299.0 C135.8,289.0 138.6,270.7 138.6,264.7" stroke="#2e1a3f" stroke-width="2.5" fill="none" stroke-linecap="round"/><path d="M135.2,299.0 C135.8,289.0 138.6,270.7 138.6,264.7" stroke="#6fae82" stroke-width="0.7" fill="none"/>
<g fill="#ecd64e" stroke="#2e1a3f" stroke-width="1.4">
<ellipse cx="132.6" cy="255.1" rx="2.2" ry="3" transform="rotate(-6 132.6 255.1)"/><ellipse cx="141.7" cy="253.6" rx="2.2" ry="3" transform="rotate(6 141.7 253.6)"/><ellipse cx="155.2" cy="253.6" rx="2.2" ry="3" transform="rotate(22 155.2 253.6)"/><ellipse cx="132.1" cy="263.2" rx="2.2" ry="3" transform="rotate(-8 132.1 263.2)"/><ellipse cx="144.2" cy="261.7" rx="2.2" ry="3" transform="rotate(11 144.2 261.7)"/><ellipse cx="151.7" cy="261.1" rx="2.2" ry="3" transform="rotate(21 151.7 261.1)"/><ellipse cx="160.8" cy="266.7" rx="2.2" ry="3" transform="rotate(36 160.8 266.7)"/><ellipse cx="131.1" cy="269.7" rx="2.2" ry="3" transform="rotate(-11 131.1 269.7)"/><ellipse cx="138.6" cy="271.2" rx="2.2" ry="3" transform="rotate(3 138.6 271.2)"/><ellipse cx="153.7" cy="270.7" rx="2.2" ry="3" transform="rotate(31 153.7 270.7)"/><ellipse cx="161.3" cy="274.2" rx="2.2" ry="3" transform="rotate(44 161.3 274.2)"/><ellipse cx="130.1" cy="277.8" rx="2.2" ry="3" transform="rotate(-18 130.1 277.8)"/><ellipse cx="136.6" cy="285.8" rx="2.2" ry="3" transform="rotate(-2 136.6 285.8)"/><ellipse cx="145.2" cy="284.8" rx="2.2" ry="3" transform="rotate(30 145.2 284.8)"/><ellipse cx="154.2" cy="286.3" rx="2.2" ry="3" transform="rotate(54 154.2 286.3)"/><ellipse cx="151.7" cy="279.8" rx="2.2" ry="3" transform="rotate(37 151.7 279.8)"/>
</g>
<circle cx="138.6" cy="262.7" r="1.5" fill="#2e1a3f"/>
</g>
<!-- ARROWS -->
<g id="arrows" class="ar">
<path d="M302.7,100.8 C310,95 318,91 324,88.5 C335,84 345,82 355.8,81.2"/><path d="M346.2,79.6 L355.8,81.2 L348.0,85.4"/>
<path d="M445.3,75.8 C455,74 462,73.2 469,73.2 C477,73.3 484,74.5 489.8,75.8"/><path d="M482.8,70.2 L489.8,75.8 L481.9,77.5"/>
<path d="M606.2,110.1 C615,109.7 622,109.6 630,110 C645,111 660,115 673.8,120.7"/><path d="M667.3,114.1 L673.8,120.7 L664.2,121.1"/>
<path d="M732.6,162.1 C740,166 748,172 754,180 C762,192 765,205 765.4,218"/><path d="M760.3,207.6 L765.4,218.0 L767.9,206.6"/>
<path stroke-width="2.1" d="M226.8,177.7 C232,195 242,215 258,232 C275,247 295,255 323.1,256.9"/><path stroke-width="2.1" d="M314.6,252.7 L323.1,256.9 L315.4,259.5"/>
<path stroke-width="2.1" d="M389,293.6 C395,298 400,301 410,303.5 C425,306 445,303 466.1,293.6"/><path stroke-width="2.1" d="M457.7,295.1 L466.1,293.6 L461.7,300.6"/>
<path d="M560.2,261.4 C566,259 572,258 583.3,257.8"/><path d="M576.7,255.2 L583.3,257.8 L577.7,261.8"/>
<path d="M679.3,264 C688,266.7 696,271 703.8,281.6"/><path d="M702.0,273.3 L703.8,281.6 L695.7,278.5"/>
<path d="M729.1,454.3 C722,459 715,464 708.6,470.1"/><path d="M713.9,463.6 L708.6,470.1 L717.6,468.5"/>
<path d="M564.7,526.1 L545.2,531.4"/><path d="M551.1,527.0 L545.2,531.4 L552.6,532.6"/>
<path stroke-width="2.1" d="M437.1,527.6 C425,532 410,537.5 380,542.5 C355,545 325,540 287.8,522.7"/><path stroke-width="2.1" d="M299.7,525.7 L287.8,522.7 L294.7,532.6"/>
<path d="M178.5,465.7 L157.4,446.8"/><path d="M166.7,452.4 L157.4,446.8 L161.7,455.8"/>
</g>
</svg>
</body></html>
